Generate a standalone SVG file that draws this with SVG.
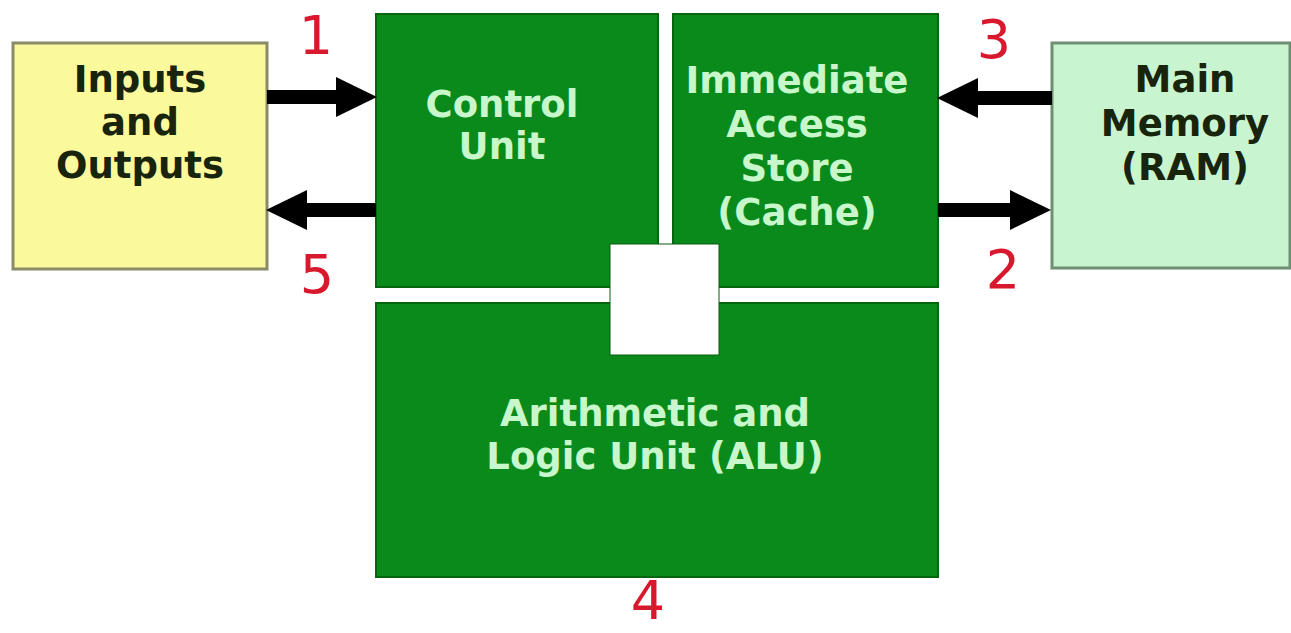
<svg xmlns="http://www.w3.org/2000/svg" width="1291" height="633" viewBox="0 0 1291 633">
<style>
.lbl{font-family:"DejaVu Sans","Verdana",sans-serif;font-weight:bold;font-size:37px;text-anchor:middle}
.dark{fill:#18240c}
.light{fill:#c9f7cc}
.num{font-family:"DejaVu Sans",sans-serif;font-size:54px;fill:#d8182c;text-anchor:middle}
.green{fill:#0b8a1c;stroke:#06650f;stroke-width:2}
.arrow{stroke:#000;stroke-width:14;fill:none;marker-end:url(#head)}
</style>
<defs>
<marker id="head" markerUnits="userSpaceOnUse" markerWidth="42" markerHeight="42" refX="10" refY="20" orient="auto">
<path d="M0,0 L41,20 L0,40 z" fill="#000"/>
</marker>
</defs>
<rect width="1291" height="633" fill="#fff"/>
<g id="io">
<rect x="13" y="43" width="254" height="226" fill="#fafa9c" stroke="#8a8a66" stroke-width="3"/>
<text class="lbl dark" x="140" y="92">Inputs</text>
<text class="lbl dark" x="140" y="135">and</text>
<text class="lbl dark" x="140" y="178">Outputs</text>
</g>
<g id="control-unit">
<rect class="green" x="376" y="14" width="282" height="273"/>
<text class="lbl light" x="502" y="117">Control</text>
<text class="lbl light" x="502" y="159">Unit</text>
</g>
<g id="ias">
<rect class="green" x="673" y="14" width="265" height="273"/>
<text class="lbl light" x="797" y="93">Immediate</text>
<text class="lbl light" x="797" y="137">Access</text>
<text class="lbl light" x="797" y="181">Store</text>
<text class="lbl light" x="797" y="225">(Cache)</text>
</g>
<g id="alu">
<rect class="green" x="376" y="303" width="562" height="274"/>
<text class="lbl light" x="655" y="426">Arithmetic and</text>
<text class="lbl light" x="655" y="469">Logic Unit (ALU)</text>
</g>
<g id="junction">
<rect x="610" y="244" width="109" height="111" fill="#fff" stroke="#0a5a10" stroke-width="1"/>
</g>
<g id="ram">
<rect x="1052" y="43" width="238" height="225" fill="#c8f5d0" stroke="#6f8f74" stroke-width="3"/>
<text class="lbl dark" x="1185" y="92">Main</text>
<text class="lbl dark" x="1185" y="136">Memory</text>
<text class="lbl dark" x="1185" y="180">(RAM)</text>
</g>
<g id="connectors">
<line class="arrow" x1="267" y1="97" x2="346" y2="97"/>
<line class="arrow" x1="376" y1="210" x2="297" y2="210"/>
<line class="arrow" x1="1052" y1="98" x2="968" y2="98"/>
<line class="arrow" x1="938" y1="210" x2="1020" y2="210"/>
</g>
<g id="numbers">
<text class="num" x="316" y="54">1</text>
<text class="num" x="994" y="58">3</text>
<text class="num" x="1003" y="288">2</text>
<text class="num" x="317" y="293">5</text>
<text class="num" x="648" y="619" font-size="46">4</text>
</g>
</svg>
